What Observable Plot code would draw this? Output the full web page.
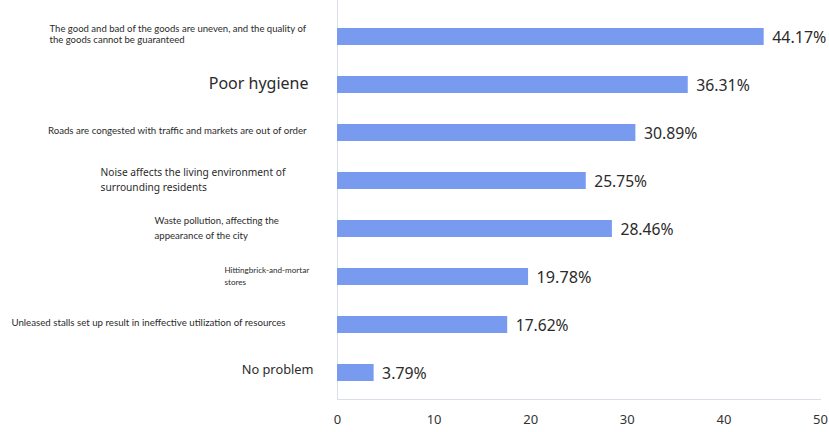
<!DOCTYPE html>
<html>
<head>
<meta charset="utf-8">
<script src="https://cdn.jsdelivr.net/npm/d3@7"></script>
<script src="https://cdn.jsdelivr.net/npm/@observablehq/plot@0.6"></script>
<style>
  html, body { margin: 0; padding: 0; background: #fff; overflow: hidden; }
</style>
</head>
<body>
<div id="chart"></div>
<script>
// Survey: problems caused by street stalls (share of respondents, %)
const categories = [
  "The good and bad of the goods are uneven, and the quality of\nthe goods cannot be guaranteed",
  "Poor hygiene",
  "Roads are congested with traffic and markets are out of order",
  "Noise affects the living environment of\nsurrounding residents",
  "Waste pollution, affecting the\nappearance of the city",
  "Hittingbrick-and-mortar\nstores",
  "Unleased stalls set up result in ineffective utilization of resources",
  "No problem"
];
const shares = [44.17, 36.31, 30.89, 25.75, 28.46, 19.78, 17.62, 3.79];
const xTicks = [0, 10, 20, 30, 40, 50];

// Per-row label typography: font, size, alignment and offset from the axis line
const labelStyles = [
  {font: "Lato", size: 9.55, anchor: "start", dx: -288, dy: -3.2, lh: 1.22},
  {font: "Noto Sans", size: 16, anchor: "end", dx: -29, dy: -2, lh: 1.2},
  {font: "Lato", size: 9.66, anchor: "end", dx: -31, dy: -2.3, lh: 1.2},
  {font: "Noto Sans", size: 10.2, anchor: "start", dx: -237, dy: -2.2, lh: 1.47},
  {font: "Lato", size: 9.6, anchor: "start", dx: -183, dy: -2, lh: 1.52},
  {font: "Lato", size: 8.1, anchor: "start", dx: -113, dy: -1.8, lh: 1.44},
  {font: "Lato", size: 9.7, anchor: "end", dx: -52, dy: -2.7, lh: 1.2},
  {font: "Noto Sans", size: 12.8, anchor: "end", dx: -24, dy: -3.5, lh: 1.2}
];
const valueSizes = [16, 15.8, 15.8, 15.6, 15.7, 16.2, 15.6, 15.8];

const rows = categories.map((c, i) => ({category: c, share: shares[i], idx: i}));

const labelMarks = rows.map((r, i) => {
  const s = labelStyles[i];
  return Plot.text([r], {
    y: "category",
    frameAnchor: "left",
    text: "category",
    textAnchor: s.anchor,
    dx: s.dx,
    dy: s.dy,
    lineHeight: s.lh,
    fontFamily: s.font,
    fontSize: s.size,
    fill: "#2b2b2b"
  });
});

const chart = Plot.plot({
  width: 829,
  height: 432,
  marginLeft: 337,
  marginRight: 9,
  marginTop: 0,
  marginBottom: 33,
  x: {domain: [0, 50], ticks: xTicks, label: null},
  y: {domain: categories, paddingInner: 0.645, paddingOuter: 0.397, align: 0.6, axis: null},
  style: {fontFamily: "Noto Sans", color: "#333", background: "#fff"},
  marks: [
    Plot.frame({anchor: "left", stroke: "#d9dee9"}),
    Plot.frame({anchor: "bottom", stroke: "#d9dee9"}),
    Plot.barX(rows, {x: "share", y: "category", fill: "#799bef"}),
    Plot.text(rows, {
      x: "share",
      y: "category",
      text: d => d.share.toFixed(2) + "%",
      textAnchor: "start",
      dx: 8,
      dy: 1,
      fontSize: d => valueSizes[d.idx],
      fill: "#2b2b2b"
    }),
    ...labelMarks,
    Plot.axisX({ticks: xTicks, tickSize: 0, tickPadding: 15, fontSize: 13, fill: "#333", label: null})
  ]
});

document.getElementById("chart").appendChild(chart);
</script>
</body>
</html>
